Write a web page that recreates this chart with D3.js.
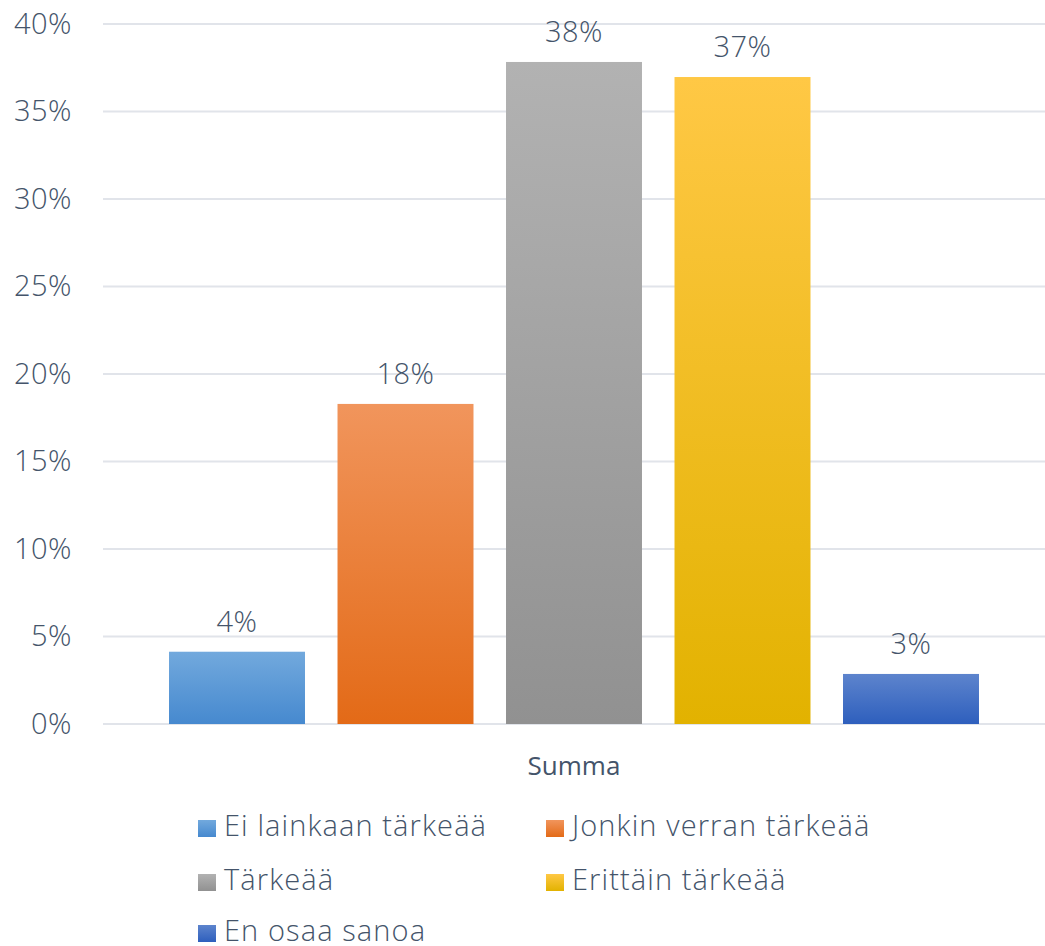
<!DOCTYPE html>
<html>
<head>
<meta charset="utf-8">
<script src="https://cdn.jsdelivr.net/npm/d3@7"></script>
<style>
  body { margin: 0; background: #fff; }
  svg { display: block; }
</style>
</head>
<body>
<div id="chart"></div>
<script>
// data
const categories = ["Summa"];
const seriesNames = ["Ei lainkaan tärkeää", "Jonkin verran tärkeää", "Tärkeää", "Erittäin tärkeää", "En osaa sanoa"];
const seriesValues = [0.0413, 0.1829, 0.3783, 0.3697, 0.0286];
const valueLabels = ["4%", "18%", "38%", "37%", "3%"];
const yTicks = [0, 0.05, 0.10, 0.15, 0.20, 0.25, 0.30, 0.35, 0.40];
// gradient stops (top, bottom) per series
const gradTop = ["#72a9dd", "#f1955c", "#b2b2b2", "#ffc845", "#5d84cd"];
const gradBottom = ["#4689cf", "#e36a17", "#919191", "#e2b200", "#2e5fbd"];

const W = 1045, H = 946;
const margin = { top: 24, right: 0, bottom: 222, left: 103 };
const innerW = W - margin.left - margin.right;
const innerH = H - margin.top - margin.bottom;
const textColor = "#44546a";
const font = "'Open Sans', sans-serif";

const svg = d3.select("#chart").append("svg")
  .attr("width", W).attr("height", H);

const defs = svg.append("defs");
seriesNames.forEach((s, i) => {
  const g = defs.append("linearGradient")
    .attr("id", "grad" + i)
    .attr("x1", 0).attr("y1", 0).attr("x2", 0).attr("y2", 1);
  g.append("stop").attr("offset", "0%").attr("stop-color", gradTop[i]);
  g.append("stop").attr("offset", "100%").attr("stop-color", gradBottom[i]);
});

const g = svg.append("g").attr("transform", `translate(${margin.left},${margin.top})`);

const y = d3.scaleLinear().domain([0, 0.4]).range([innerH, 0]);
const x0 = d3.scaleBand().domain(categories).range([0, innerW]).paddingInner(0).paddingOuter(0.0815);
const x1 = d3.scaleBand().domain(seriesNames).range([0, x0.bandwidth()]).paddingInner(0.193).paddingOuter(0);

// gridlines
g.append("g")
  .selectAll("line")
  .data(yTicks)
  .join("line")
    .attr("x1", 0).attr("x2", innerW)
    .attr("y1", d => y(d)).attr("y2", d => y(d))
    .attr("stroke", "#e1e4ea").attr("stroke-width", 2);

// y axis (labels only)
const yAxis = g.append("g")
  .attr("transform", "translate(-31,0)")
  .call(d3.axisLeft(y).tickValues(yTicks).tickFormat(d3.format(".0%")).tickSize(0).tickPadding(0));
yAxis.select(".domain").remove();
yAxis.selectAll("text")
  .attr("fill", textColor)
  .style("font-family", font)
  .style("font-weight", 300)
  .style("letter-spacing", "0.5px")
  .style("font-size", "29px");

// bars
const grp = g.append("g").attr("transform", `translate(${x0("Summa")},0)`);
grp.selectAll("rect")
  .data(seriesValues)
  .join("rect")
    .attr("x", (d, i) => x1(seriesNames[i]))
    .attr("y", d => y(d))
    .attr("width", x1.bandwidth())
    .attr("height", d => innerH - y(d))
    .attr("fill", (d, i) => `url(#grad${i})`);

// value labels
grp.selectAll("text")
  .data(seriesValues)
  .join("text")
    .attr("x", (d, i) => x1(seriesNames[i]) + x1.bandwidth() / 2)
    .attr("y", d => y(d) - 20)
    .attr("text-anchor", "middle")
    .attr("fill", textColor)
    .style("font-family", font)
    .style("font-weight", 300)
    .style("letter-spacing", "0.5px")
    .style("font-size", "29px")
    .text((d, i) => valueLabels[i]);

// category label
g.append("text")
  .attr("x", x0("Summa") + x0.bandwidth() / 2)
  .attr("y", innerH + 51)
  .attr("text-anchor", "middle")
  .attr("fill", textColor)
  .style("font-family", font)
  .style("font-size", "26px")
  .text(categories[0]);

// legend
const legCols = [198, 546];
const legRows = [836, 890, 941];
const legend = svg.append("g");
seriesNames.forEach((s, i) => {
  const lx = legCols[i % 2], ly = legRows[Math.floor(i / 2)];
  legend.append("rect")
    .attr("x", lx).attr("y", ly - 16)
    .attr("width", 18).attr("height", 17)
    .attr("fill", `url(#grad${i})`);
  legend.append("text")
    .attr("x", lx + 26).attr("y", ly)
    .attr("fill", textColor)
    .style("font-family", font)
    .style("font-weight", 300)
    .style("letter-spacing", "1.1px")
    .style("font-size", "29px")
    .text(s);
});
</script>
</body>
</html>
